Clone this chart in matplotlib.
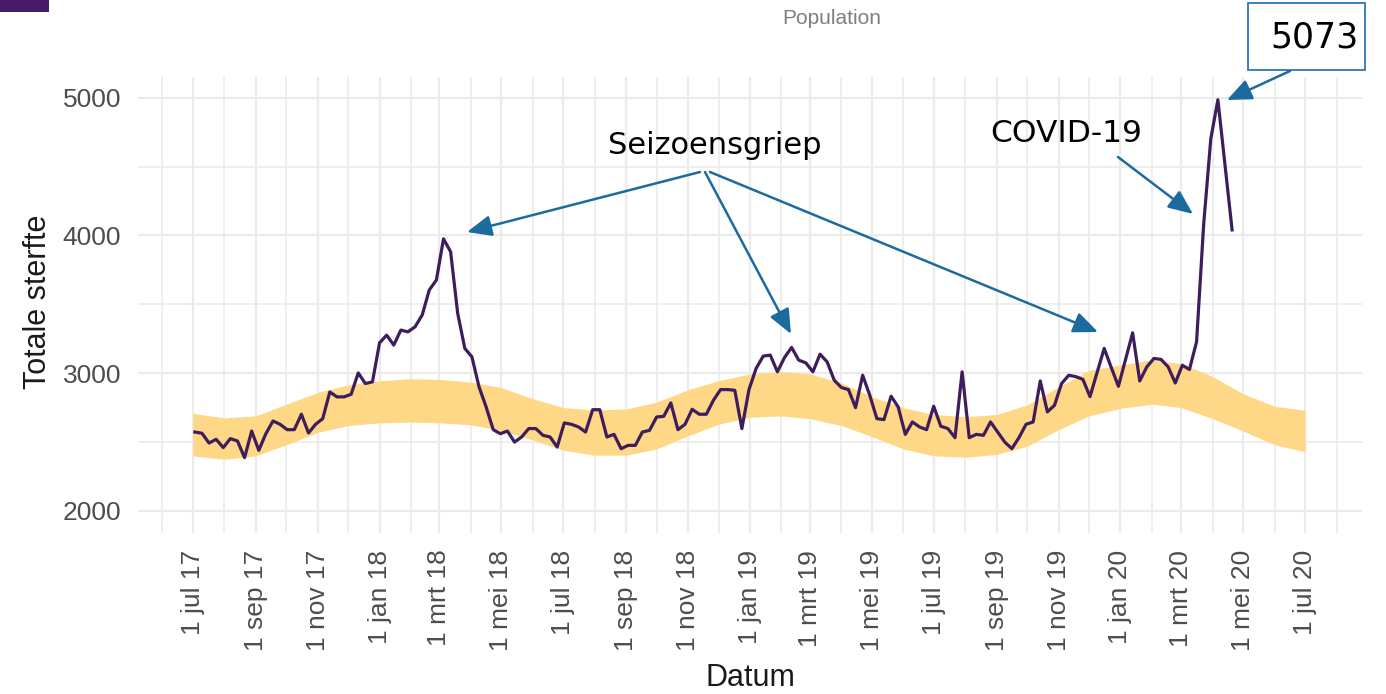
import matplotlib
matplotlib.use('Agg')
import matplotlib.pyplot as plt
import matplotlib.dates as mdates
from matplotlib.ticker import FuncFormatter, FixedLocator
from matplotlib.patches import Rectangle, FancyArrowPatch
import pandas as pd

W, H = 1386, 694

# ---------------- data ----------------
week_start = '2017-07-03'
deaths = [
    2573, 2564, 2493, 2520, 2460, 2525, 2508, 2387, 2580, 2440, 2561, 2653, 2629,
    2590, 2590, 2702, 2566, 2629, 2670, 2864, 2828, 2828, 2847, 3002, 2925,
    2937, 3220, 3276, 3204, 3313, 3300, 3337, 3422, 3604, 3676, 3975, 3882, 3434,
    3180, 3119, 2901, 2755, 2590, 2561, 2580, 2500, 2537, 2598, 2598,
    2549, 2537, 2464, 2639, 2629, 2610, 2573, 2735, 2735, 2537, 2556, 2452, 2476,
    2476, 2573, 2585, 2682, 2687, 2784, 2590, 2629, 2738, 2702, 2702, 2804,
    2881, 2881, 2876, 2598, 2881, 3034, 3124, 3131, 3010, 3114, 3187, 3095,
    3075, 3010, 3138, 3082, 2949, 2896, 2881, 2750, 2985, 2840, 2670, 2663,
    2833, 2755, 2556, 2646, 2610, 2590, 2760, 2615, 2598, 2532, 3010, 2532, 2556,
    2549, 2646, 2573, 2500, 2452, 2532, 2629, 2646, 2944, 2719, 2767, 2925,
    2985, 2975, 2955, 2830, 3005, 3180, 3040, 2905, 3100, 3293, 2944, 3046,
    3107, 3100, 3046, 2929, 3058, 3027, 3228, 4080, 4700, 4985, 4510, 4040,
]

band_start = '2017-07-01'
band_upper = [2709, 2675, 2690, 2775, 2860, 2915, 2945, 2960, 2955, 2935, 2895, 2815,
              2750, 2733, 2740, 2790, 2880, 2945, 2995, 3010, 2995, 2930, 2830, 2750,
              2700, 2685, 2700, 2770, 2900, 3020, 3060, 3095, 3070, 2975, 2850, 2760,
              2730]
band_lower = [2400, 2375, 2400, 2480, 2570, 2620, 2640, 2645, 2640, 2625, 2585, 2515,
              2440, 2405, 2405, 2450, 2545, 2630, 2680, 2690, 2670, 2620, 2540, 2450,
              2400, 2390, 2410, 2470, 2590, 2690, 2745, 2775, 2750, 2670, 2580, 2480,
              2430]

dutch_months = ['jan', 'feb', 'mrt', 'apr', 'mei', 'jun', 'jul', 'aug', 'sep', 'okt', 'nov', 'dec']
y_ticks = [2000, 3000, 4000, 5000]
y_minor = [2500, 3500, 4500]
x_label = 'Datum'
y_label = 'Totale sterfte'
title = 'Population'
flu_label = 'Seizoensgriep'
covid_label = 'COVID-19'
peak_label = '5073'

# ---------------- styling ----------------
plt.rcParams['font.family'] = ['Liberation Sans', 'DejaVu Sans']
LINE = '#3f1c5c'
BAND = '#fed886'
GRID = '#ebebeb'
BLUE = '#1c6b9e'


def fp(x, y):
    """top-left pixel -> figure fraction"""
    return (x / W, 1 - y / H)


dates = pd.date_range(week_start, periods=len(deaths), freq='7D')
band_dates = pd.date_range(band_start, periods=len(band_upper), freq='MS')

fig = plt.figure(figsize=(W / 100, H / 100), dpi=100)
ax = fig.add_axes([138 / W, 1 - 533 / H, (1362 - 138) / W, (533 - 77) / H])

ax.fill_between(band_dates, band_lower, band_upper, color=BAND, lw=0, zorder=2)
ax.plot(dates, deaths, color=LINE, lw=2.3, zorder=3, solid_joinstyle='round')

ax.set_xlim(pd.Timestamp('2017-05-08'), pd.Timestamp('2020-08-26'))
ax.set_ylim(1840, 5150)

ax.xaxis.set_major_locator(mdates.MonthLocator(bymonth=[1, 3, 5, 7, 9, 11]))
ax.xaxis.set_minor_locator(mdates.MonthLocator(bymonth=[2, 4, 6, 8, 10, 12]))


def fmt(x, pos):
    d = mdates.num2date(x)
    return f"1 {dutch_months[d.month - 1]} {d:%y}"


ax.xaxis.set_major_formatter(FuncFormatter(fmt))
ax.yaxis.set_major_locator(FixedLocator(y_ticks))
ax.yaxis.set_minor_locator(FixedLocator(y_minor))

ax.grid(which='major', color=GRID, lw=1.6, zorder=0)
ax.grid(which='minor', color=GRID, lw=1.2, zorder=0)
ax.set_axisbelow(True)
for s in ax.spines.values():
    s.set_visible(False)

ax.tick_params(axis='both', which='both', length=0)
ax.tick_params(axis='x', labelsize=19, labelcolor='#4d4d4d', pad=12, labelrotation=90)
ax.tick_params(axis='y', labelsize=19, labelcolor='#4d4d4d', pad=12)
for lab in ax.get_xticklabels():
    lab.set_va('top')
    lab.set_ha('center')

fig.text(*fp(750, 678), x_label, ha='center', va='center', fontsize=22, color='#1a1a1a')
fig.text(*fp(38, 302), y_label, ha='center', va='center', rotation=90, fontsize=22, color='#1a1a1a')
fig.text(*fp(832, 18), title, ha='center', va='center', fontsize=15, color='#7f7f7f')

# decorative remnant at top-left
fig.add_artist(Rectangle(fp(0, 12), 49 / W, 12 / H, transform=fig.transFigure,
                         facecolor='#4a1a6a', edgecolor='none'))

# annotations
fig.text(*fp(715, 146), flu_label, ha='center', va='center', fontsize=22,
         family='DejaVu Sans', color='black')
fig.text(*fp(1066, 133), covid_label, ha='center', va='center', fontsize=22.5,
         family='DejaVu Sans', color='black')

fig.add_artist(Rectangle(fp(1248, 70), 117 / W, 67 / H, transform=fig.transFigure,
                         facecolor='white', edgecolor='#2e75b6', lw=1.3, zorder=5))
fig.text(*fp(1314, 38), peak_label, ha='center', va='center', fontsize=25,
         family='DejaVu Sans', color='black', zorder=6)

arrows = [((700, 172), (467, 232)),
          ((705, 172), (791, 334)),
          ((710, 172), (1098, 332)),
          ((1118, 157), (1193, 214)),
          ((1290, 71), (1227, 100))]
for a, b in arrows:
    fig.add_artist(FancyArrowPatch(fp(*a), fp(*b), transform=fig.transFigure,
                                   arrowstyle='-|>,head_length=0.75,head_width=0.32',
                                   mutation_scale=20, lw=1.8, color=BLUE,
                                   shrinkA=0, shrinkB=0, zorder=6))

fig.savefig('out.png', dpi=100)
